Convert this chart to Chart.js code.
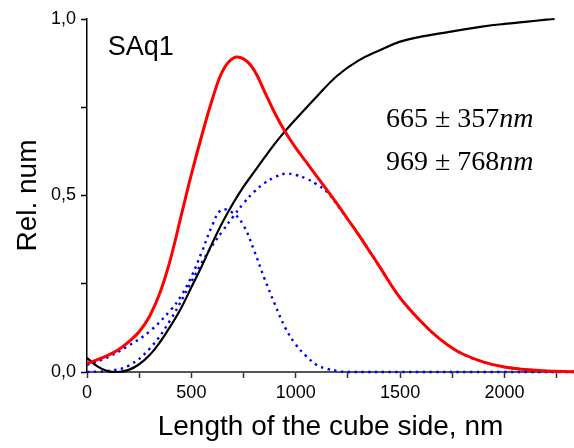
<!DOCTYPE html>
<html>
<head>
<meta charset="utf-8">
<script src="https://cdn.jsdelivr.net/npm/chart.js@4"></script>
<style>
  body { margin: 0; background: #fff; }
  canvas { display: block; }
</style>
</head>
<body>
<canvas id="sizeChart" width="574" height="448"></canvas>
<script>
// values
const sumX = [0, 50, 100, 150, 200, 250, 300, 350, 400, 450, 500, 550, 600, 650, 700, 750, 800, 850, 900, 950, 1000, 1050, 1100, 1150, 1200, 1250, 1300, 1350, 1400, 1450, 1500, 1550, 1600, 1650, 1700, 1750, 1800, 1900, 2000, 2100, 2200, 2333];
const sumY = [0.024, 0.035, 0.047, 0.063, 0.086, 0.114, 0.158, 0.225, 0.32, 0.44, 0.56, 0.67, 0.772, 0.853, 0.889, 0.887, 0.856, 0.795, 0.733, 0.68, 0.635, 0.595, 0.555, 0.515, 0.475, 0.432, 0.39, 0.345, 0.30, 0.253, 0.21, 0.175, 0.143, 0.114, 0.089, 0.068, 0.051, 0.028, 0.014, 0.007, 0.003, 0.001];

const peak1X = [0, 100, 200, 300, 400, 450, 500, 550, 600, 644, 700, 750, 800, 850, 900, 950, 1000, 1050, 1100, 1150, 1200, 1250, 1500, 2000, 2333];
const peak1Y = [0.02, 0.042, 0.075, 0.115, 0.175, 0.215, 0.27, 0.34, 0.415, 0.459, 0.45, 0.415, 0.345, 0.265, 0.192, 0.125, 0.078, 0.045, 0.02, 0.009, 0.003, 0, 0, 0, 0];

const peak2X = [0, 100, 200, 300, 400, 500, 550, 600, 650, 700, 750, 800, 850, 900, 950, 1000, 1050, 1100, 1150, 1200, 1300, 1400, 1500, 1600, 1700, 1800, 1900, 2000, 2100, 2200, 2333];
const peak2Y = [0, 0.003, 0.018, 0.066, 0.148, 0.256, 0.31, 0.358, 0.40, 0.44, 0.478, 0.51, 0.535, 0.552, 0.562, 0.558, 0.548, 0.532, 0.51, 0.472, 0.39, 0.30, 0.21, 0.143, 0.089, 0.051, 0.028, 0.014, 0.007, 0.003, 0.001];

const cumX = [0, 50, 100, 150, 200, 250, 300, 350, 400, 450, 500, 550, 600, 650, 700, 750, 800, 850, 900, 950, 1000, 1100, 1200, 1300, 1400, 1500, 1600, 1700, 1800, 1900, 2000, 2100, 2200, 2240];
const cumY = [0.04, 0.016, 0.002, 0, 0.006, 0.022, 0.048, 0.085, 0.13, 0.18, 0.24, 0.3, 0.365, 0.425, 0.478, 0.525, 0.566, 0.607, 0.647, 0.683, 0.716, 0.78, 0.84, 0.882, 0.911, 0.936, 0.95, 0.96, 0.97, 0.979, 0.986, 0.992, 0.998, 1.0];

const xTicks = [0, 250, 500, 750, 1000, 1250, 1500, 1750, 2000, 2250];
const yTicks = [0, 0.25, 0.5, 0.75, 1.0];

const sampleName = 'SAq1';
const fitLines = [['665', '357'], ['969', '768']];

function pts(xs, ys) {
    return xs.map((x, i) => ({ x: x, y: ys[i] }));
}

const sansFont = 'Arial, "Liberation Sans", sans-serif';
const serifFont = '"Times New Roman", "Liberation Serif", serif';

const textPlugin = {
    id: 'texts',
    afterDraw(chart) {
        const ctx = chart.ctx;
        const xs = chart.scales.x;
        const ys = chart.scales.y;
        ctx.save();
        ctx.fillStyle = '#000';
        ctx.textBaseline = 'alphabetic';
        ctx.font = '27px ' + sansFont;
        ctx.fillText(sampleName, xs.getPixelForValue(99), ys.getPixelForValue(0.898));

        const rows = [0.694, 0.572];
        fitLines.forEach((row, i) => {
            let px = xs.getPixelForValue(1432);
            const py = ys.getPixelForValue(rows[i]);
            ctx.font = '28px ' + serifFont;
            const part = row[0] + ' \u00B1 ' + row[1];
            ctx.fillText(part, px, py);
            px += ctx.measureText(part).width;
            ctx.font = 'italic 28px ' + serifFont;
            ctx.fillText('nm', px, py);
        });
        ctx.restore();
    }
};

function lineSet(xs, ys, color, width, dash) {
    return {
        data: pts(xs, ys),
        borderColor: color,
        borderWidth: width,
        borderDash: dash || [],
        tension: 0.4,
        pointRadius: 0,
        fill: false,
        clip: false
    };
}

const ctx = document.getElementById('sizeChart').getContext('2d');
new Chart(ctx, {
    type: 'line',
    data: {
        datasets: [
            lineSet(sumX, sumY, '#ff0000', 3),
            lineSet(cumX, cumY, '#000000', 2.2),
            lineSet(peak1X, peak1Y, '#0000ff', 2.4, [2.4, 4.4]),
            lineSet(peak2X, peak2Y, '#0000ff', 2.4, [2.4, 4.4])
        ]
    },
    options: {
        responsive: false,
        animation: false,
        layout: { padding: { top: 19, right: 0, left: 0, bottom: 0 } },
        plugins: {
            legend: { display: false },
            tooltip: { enabled: false }
        },
        scales: {
            x: {
                type: 'linear',
                min: 0,
                max: 2333,
                afterBuildTicks: s => { s.ticks = xTicks.map(v => ({ value: v })); },
                afterFit: s => { s.height = 76; },
                ticks: {
                    autoSkip: false,
                    maxRotation: 0,
                    padding: 4,
                    color: '#000',
                    font: { family: sansFont, size: 18 },
                    callback: v => (v % 500 === 0 ? String(v) : '')
                },
                grid: {
                    drawOnChartArea: false,
                    drawTicks: true,
                    tickLength: 6,
                    tickColor: '#333',
                    tickWidth: 1.5
                },
                border: { display: true, color: '#555', width: 2 },
                title: {
                    display: true,
                    text: 'Length of the cube side, nm',
                    color: '#000',
                    font: { family: sansFont, size: 28, lineHeight: 1.2 },
                    padding: { top: 0, bottom: 4 }
                }
            },
            y: {
                type: 'linear',
                min: 0,
                max: 1,
                afterBuildTicks: s => { s.ticks = yTicks.map(v => ({ value: v })); },
                afterFit: s => { s.width = 87; },
                ticks: {
                    padding: 5,
                    color: '#000',
                    font: { family: sansFont, size: 18 },
                    callback: v => (Math.abs(v * 2 - Math.round(v * 2)) < 1e-9 ? v.toFixed(1).replace('.', ',') : '')
                },
                grid: {
                    drawOnChartArea: false,
                    drawTicks: true,
                    tickLength: 6,
                    tickColor: '#000',
                    tickWidth: 1.5
                },
                border: { display: true, color: '#000', width: 1.5 },
                title: {
                    display: true,
                    text: 'Rel. num',
                    color: '#000',
                    font: { family: sansFont, size: 28, lineHeight: 1.2 },
                    padding: { top: 11, bottom: 0 }
                }
            }
        }
    },
    plugins: [textPlugin]
});
</script>
</body>
</html>
